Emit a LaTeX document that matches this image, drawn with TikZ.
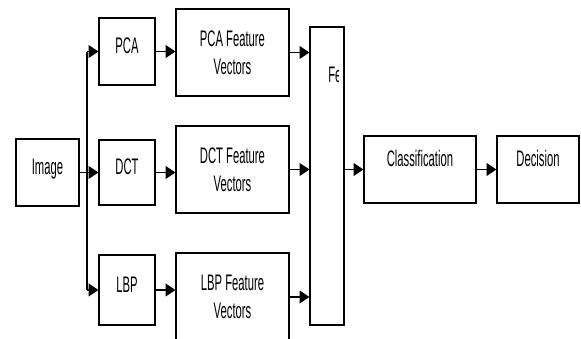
\documentclass[tikz,border=0pt]{standalone}
\usepackage{fontspec}
\setmainfont{Liberation Sans}[FakeStretch=0.5]
\usetikzlibrary{arrows.meta}

\begin{document}
\begin{tikzpicture}[x=0.025cm,y=-0.025cm,
  box/.style={draw,line width=0.8pt,inner sep=0pt,align=center,
    font=\fontsize{16}{20}\selectfont},
  raised/.style={text height=12pt,text depth=#1},
  arr/.style={line width=1.4pt,-{Triangle[length=7pt,width=9pt]}},
  wire/.style={line width=1.2pt}]
  \clip (0,0) rectangle (581,338);
  % input and the three extractors
  \node[box,raised=9pt,minimum width=1.575cm,minimum height=1.675cm] (img) at (47.5,172.5) {Image};
  \node[box,raised=9pt,minimum width=1.4cm,minimum height=1.675cm] (pca) at (127,51.5) {PCA};
  \node[box,raised=9pt,minimum width=1.4cm,minimum height=1.625cm] (dct) at (127,172.5) {DCT};
  \node[box,raised=9pt,minimum width=1.4cm,minimum height=1.75cm] (lbp) at (127,290) {LBP};
  % feature vectors
  \node[box,minimum width=2.825cm,minimum height=2.175cm] (pcafv) at (232.5,52.5) {PCA Feature\\Vectors};
  \node[box,minimum width=2.825cm,minimum height=2.175cm] (dctfv) at (232.5,169.5) {DCT Feature\\Vectors};
  \node[box,minimum width=2.825cm,minimum height=2.2cm] (lbpfv) at (232.5,297) {LBP Feature\\Vectors};
  % fusion, classification, decision
  \node[box,minimum width=0.85cm,minimum height=7.45cm] (fusion) at (327,176) {};
  \begin{scope}
    \clip (fusion.north west) rectangle ([xshift=-0.15cm]fusion.south east);
    \node[font=\fontsize{16}{20}\selectfont,anchor=west,inner sep=0pt] (fuslbl) at (328,75) {Fe};
  \end{scope}
  \node[box,raised=16pt,minimum width=2.8cm,minimum height=1.675cm] (cls) at (420,169.5) {Classification};
  \node[box,raised=16pt,minimum width=2.05cm,minimum height=1.675cm] (dec) at (538,169.5) {Decision};

  \coordinate (split) at (87,172.5);
  \draw[wire] (split |- pca.west) -- (split |- lbp.west);
  \draw[arr] (img.east) -- (img.east -| dct.west);
  \draw[arr] (split |- pca.west) -- (pca.west);
  \draw[arr] (split |- lbp.west) -- (lbp.west);

  \draw[arr] (pca.east) -- (pca.east -| pcafv.west);
  \draw[arr] (dct.east) -- (dct.east -| dctfv.west);
  \draw[arr] (lbp.east) -- (lbp.east -| lbpfv.west);

  \draw[arr] (pcafv.east) -- (pcafv.east -| fusion.west);
  \draw[arr] (dctfv.east) -- (dctfv.east -| fusion.west);
  \draw[arr] (lbpfv.east) -- (lbpfv.east -| fusion.west);

  \draw[arr] (fusion.east |- cls.west) -- (cls.west);
  \draw[arr] (cls.east) -- (dec.west);
\end{tikzpicture}
\end{document}
